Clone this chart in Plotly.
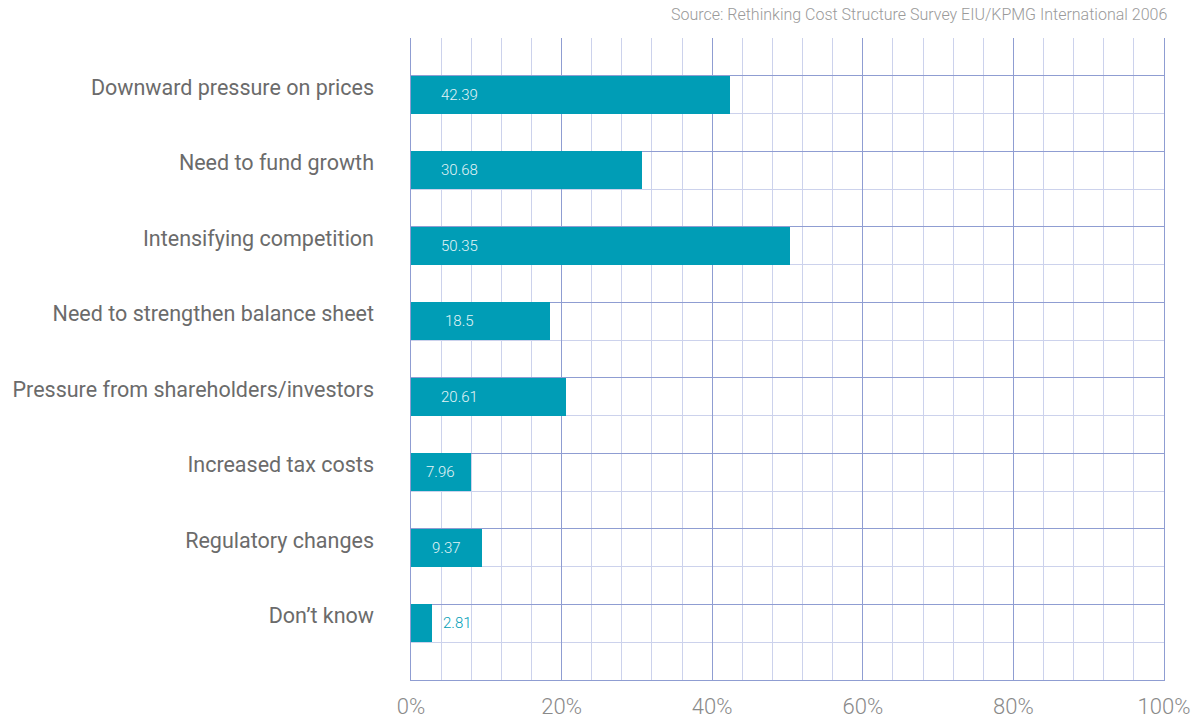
import plotly.graph_objects as go

# Survey results: drivers of cost reduction (% of respondents)
categories = [
    "Downward pressure on prices",
    "Need to fund growth",
    "Intensifying competition",
    "Need to strengthen balance sheet",
    "Pressure from shareholders/investors",
    "Increased tax costs",
    "Regulatory changes",
    "Don\u2019t know",
]
values = [42.39, 30.68, 50.35, 18.5, 20.61, 7.96, 9.37, 2.81]
x_ticks = [0, 20, 40, 60, 80, 100]
x_tick_labels = ["0%", "20%", "40%", "60%", "80%", "100%"]
source_note = "Source: Rethinking Cost Structure Survey EIU/KPMG International 2006"

BAR = "#009db6"
GRID_MAJOR = "#8f9dd2"
GRID_MINOR = "#ccd2ec"
FONT = "Roboto"

n = len(categories)
# each category occupies two grid rows; bar sits in the second half-row
slot = [2 * i + 1.5 for i in range(n)]
y_top = 2 * n + 1

fig = go.Figure()

# empty trace so the grid axis is laid out
fig.add_trace(go.Scatter(
    x=[0], y=[0], mode="none", yaxis="y",
    hoverinfo="skip", showlegend=False,
))

fig.add_trace(go.Bar(
    x=values,
    y=slot,
    orientation="h",
    width=1.0,
    marker=dict(color=BAR, line=dict(width=0)),
    yaxis="y2",
    hoverinfo="x",
    showlegend=False,
))

# value labels: inside the bar near its start, or just outside when too short
for v, s in zip(values, slot):
    inside = v >= 5
    fig.add_annotation(
        x=min(v / 2, 6.4) if inside else 6.2,
        y=s,
        xref="x",
        yref="y2",
        text=f"{v:g}",
        showarrow=False,
        xanchor="center",
        yanchor="middle",
        font=dict(family=FONT, size=15, weight=300,
                  color="#e4f4f7" if inside else BAR),
    )

fig.add_annotation(
    x=1.0, y=1.0, xref="paper", yref="paper",
    xanchor="right", yanchor="bottom", yshift=12, xshift=5,
    text=source_note, showarrow=False,
    font=dict(family=FONT, size=16, weight=300, color="#9a9a9a"),
)

fig.update_layout(
    width=1197,
    height=720,
    margin=dict(l=411, r=33, t=38, b=40),
    paper_bgcolor="white",
    plot_bgcolor="white",
    bargap=0,
    xaxis=dict(
        range=[0, 100],
        tickvals=x_ticks,
        ticktext=x_tick_labels,
        showgrid=True,
        gridcolor=GRID_MAJOR,
        gridwidth=1,
        minor=dict(dtick=4, tick0=0, showgrid=True, gridcolor=GRID_MINOR, gridwidth=1),
        showline=True,
        linecolor=GRID_MAJOR,
        linewidth=1,
        zeroline=False,
        ticks="",
        ticklabelstandoff=7,
        automargin=False,
        tickfont=dict(family=FONT, size=22, weight=300, color="#8a8a8a"),
        fixedrange=True,
    ),
    # grid axis: darker line above each bar, lighter lines every half category
    yaxis=dict(
        range=[y_top, 0],
        tickvals=[2 * i + 1 for i in range(n)],
        showticklabels=False,
        showgrid=True,
        gridcolor=GRID_MAJOR,
        gridwidth=1,
        minor=dict(dtick=1, tick0=0, showgrid=True, gridcolor=GRID_MINOR, gridwidth=1),
        showline=True,
        mirror=True,
        linecolor=GRID_MAJOR,
        linewidth=1,
        zeroline=False,
        ticks="",
        automargin=False,
        fixedrange=True,
    ),
    # label axis carrying the bars
    yaxis2=dict(
        overlaying="y",
        side="left",
        range=[y_top, 0],
        tickvals=[s - 0.2 for s in slot],
        ticktext=categories,
        showgrid=False,
        zeroline=False,
        showline=False,
        ticks="",
        ticklabelstandoff=36,
        automargin=False,
        tickfont=dict(family=FONT, size=21.5, weight=400, color="#6b6b6b"),
        fixedrange=True,
    ),
)

fig.write_html("out.html")
